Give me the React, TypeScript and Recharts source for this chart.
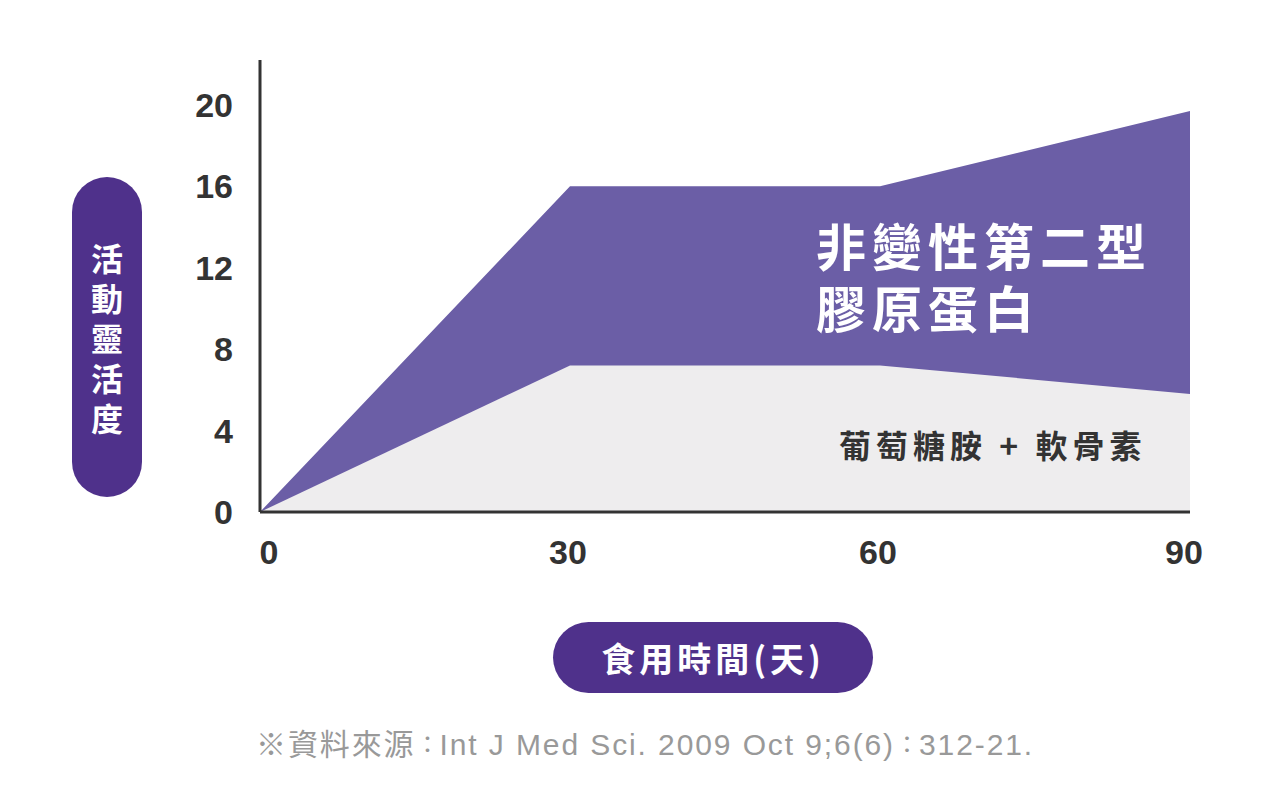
import { AreaChart, Area, XAxis, YAxis } from "recharts";

// 食用天數
const days = [0, 30, 60, 90];
// 非變性第二型膠原蛋白
const collagen = [0, 16, 16, 19.7];
// 葡萄糖胺 + 軟骨素
const glucosamine = [0, 7.2, 7.2, 5.8];

const xTicks = [0, 30, 60, 90];
const yTicks = [0, 4, 8, 12, 16, 20];

const data = days.map((day, i) => ({
  day,
  collagen: collagen[i],
  glucosamine: glucosamine[i],
}));

const font = "'Liberation Sans', Arial, 'Noto Sans CJK TC', sans-serif";
const cjk = "'Noto Sans CJK TC', 'Liberation Sans', sans-serif";

function XTick(props: any) {
  const { x, y, payload, index } = props;
  const shift = index === 0 ? 9 : index === 3 ? -6 : -2;
  return (
    <text
      x={x + shift}
      y={y}
      dy="0.71em"
      textAnchor="middle"
      fill="#333"
      fontSize={34}
      fontWeight={700}
      fontFamily={font}
    >
      {payload.value}
    </text>
  );
}

const colon = {
  fontSize: 24,
  letterSpacing: 0,
  position: "relative" as const,
  top: -2,
};

export default function App() {
  return (
    <div
      style={{
        position: "absolute",
        left: 0,
        top: 0,
        width: 1280,
        height: 788,
        background: "#fff",
        fontFamily: cjk,
      }}
    >
      <AreaChart
        width={1280}
        height={788}
        data={data}
        margin={{ top: 60, right: 90, bottom: 216, left: 0 }}
      >
        <XAxis
          type="number"
          dataKey="day"
          domain={[0, 90]}
          ticks={xTicks}
          axisLine={{ stroke: "#333", strokeWidth: 3 }}
          tickLine={false}
          tickSize={6}
          tickMargin={22}
          height={60}
          tick={<XTick />}
        />
        <YAxis
          type="number"
          domain={[0, 22.2]}
          ticks={yTicks}
          width={260}
          axisLine={{ stroke: "#333", strokeWidth: 3 }}
          tickLine={false}
          tickSize={6}
          tickMargin={21}
          tick={{
            fill: "#333",
            fontSize: 34,
            fontWeight: 700,
            fontFamily: font,
          }}
        />
        <Area
          type="linear"
          dataKey="collagen"
          fill="#6b5ea6"
          fillOpacity={1}
          stroke="none"
          isAnimationActive={false}
        />
        <Area
          type="linear"
          dataKey="glucosamine"
          fill="#eeedee"
          fillOpacity={1}
          stroke="none"
          isAnimationActive={false}
        />
      </AreaChart>

      {/* y 軸標題 */}
      <div
        style={{
          position: "absolute",
          left: 72,
          top: 177,
          width: 70,
          height: 320,
          borderRadius: 35,
          background: "#4f318b",
          color: "#fff",
          fontWeight: 700,
          fontSize: 32,
          lineHeight: "40px",
          textAlign: "center",
          display: "flex",
          flexDirection: "column",
          justifyContent: "center",
        }}
      >
        {"活動靈活度".split("").map((c, i) => (
          <div key={i}>{c}</div>
        ))}
      </div>

      {/* 區塊標籤 */}
      <div
        style={{
          position: "absolute",
          left: 816,
          top: 213,
          color: "#fff",
          fontWeight: 700,
          fontSize: 50,
          lineHeight: "62px",
          letterSpacing: 6,
          whiteSpace: "nowrap",
        }}
      >
        非變性第二型
        <br />
        膠原蛋白
      </div>
      <div
        style={{
          position: "absolute",
          left: 839,
          top: 423,
          color: "#333",
          fontWeight: 700,
          fontSize: 32,
          lineHeight: "42px",
          letterSpacing: 5,
          whiteSpace: "nowrap",
        }}
      >
        葡萄糖胺 + 軟骨素
      </div>

      {/* x 軸標題 */}
      <div
        style={{
          position: "absolute",
          left: 553,
          top: 622,
          width: 320,
          height: 71,
          borderRadius: 36,
          background: "#4f318b",
          color: "#fff",
          fontWeight: 700,
          fontSize: 34,
          lineHeight: "71px",
          textAlign: "center",
          letterSpacing: 4,
        }}
      >
        食用時間(天)
      </div>

      {/* 資料來源 */}
      <div
        style={{
          position: "absolute",
          left: 256,
          top: 726,
          color: "#999",
          fontSize: 30,
          lineHeight: "38px",
          letterSpacing: 1.9,
          whiteSpace: "nowrap",
          fontFamily: font,
        }}
      >
        ※資料來源<span style={colon}>：</span>Int J Med Sci. 2009 Oct
        9;6(6)<span style={colon}>：</span>312-21.
      </div>
    </div>
  );
}
